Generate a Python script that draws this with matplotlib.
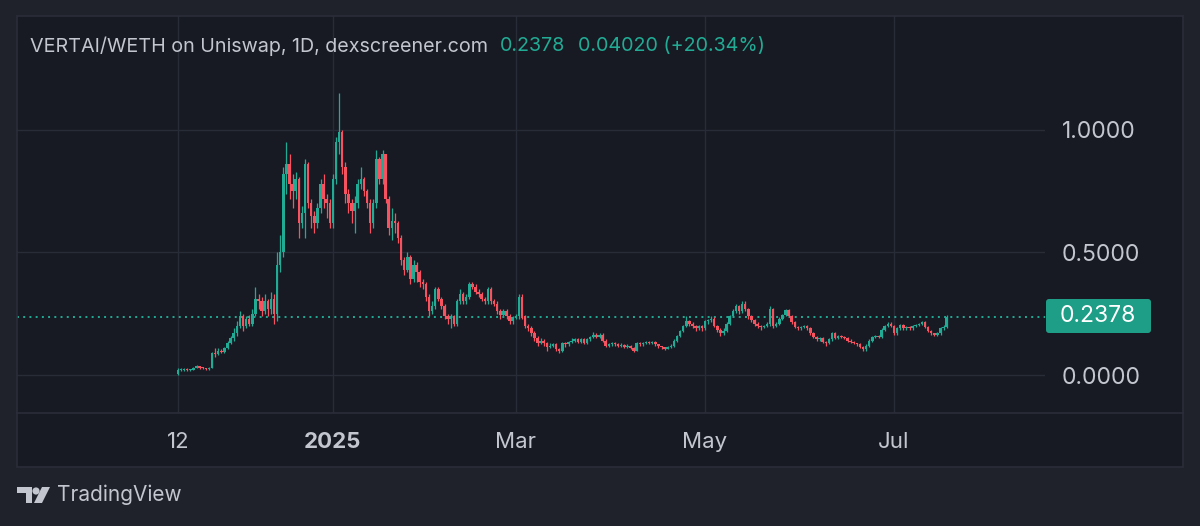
import numpy as np
import pandas as pd
import matplotlib
matplotlib.use("Agg")
import matplotlib.pyplot as plt
import matplotlib.dates as mdates
from matplotlib.patches import Rectangle, FancyBboxPatch, Circle, Polygon
from matplotlib.transforms import IdentityTransform
from matplotlib.lines import Line2D

# daily candles, first day 2024-11-12
start_date = "2024-11-12"
first_open = 0.005
close = [
    0.020, 0.022, 0.025, 0.020, 0.022, 0.030, 0.035, 0.030, 0.028, 0.025,
    0.030, 0.090, 0.085, 0.100, 0.095, 0.110, 0.130, 0.150, 0.170, 0.200,
    0.240, 0.200, 0.230, 0.210, 0.250, 0.310, 0.300, 0.260, 0.300, 0.270,
    0.310, 0.250, 0.450, 0.500, 0.820, 0.860, 0.780, 0.750, 0.800, 0.620,
    0.660, 0.860, 0.700, 0.650, 0.620, 0.680, 0.780, 0.720, 0.700, 0.620,
    0.800, 0.950, 0.990, 0.850, 0.740, 0.700, 0.670, 0.700, 0.780, 0.800,
    0.750, 0.700, 0.620, 0.700, 0.880, 0.800, 0.900, 0.720, 0.600, 0.630,
    0.620, 0.560, 0.470, 0.430, 0.480, 0.390, 0.450, 0.420, 0.380, 0.370,
    0.320, 0.260, 0.280, 0.350, 0.310, 0.280, 0.240, 0.230, 0.240, 0.210,
    0.300, 0.330, 0.300, 0.320, 0.370, 0.360, 0.340, 0.330, 0.310, 0.300,
    0.350, 0.300, 0.290, 0.260, 0.245, 0.260, 0.240, 0.220, 0.235, 0.240,
    0.320, 0.240, 0.200, 0.190, 0.170, 0.150, 0.130, 0.140, 0.130, 0.115,
    0.120, 0.125, 0.105, 0.100, 0.130, 0.125, 0.135, 0.140, 0.145, 0.135,
    0.145, 0.130, 0.145, 0.155, 0.165, 0.155, 0.165, 0.140, 0.120, 0.125,
    0.130, 0.125, 0.120, 0.122, 0.115, 0.120, 0.110, 0.100, 0.130, 0.125,
    0.130, 0.135, 0.130, 0.135, 0.125, 0.118, 0.113, 0.108, 0.115, 0.120,
    0.140, 0.160, 0.180, 0.200, 0.220, 0.210, 0.200, 0.190, 0.200, 0.190,
    0.220, 0.225, 0.230, 0.200, 0.185, 0.170, 0.180, 0.210, 0.240, 0.260,
    0.280, 0.260, 0.290, 0.270, 0.240, 0.225, 0.210, 0.200, 0.195, 0.200,
    0.210, 0.270, 0.200, 0.210, 0.230, 0.245, 0.265, 0.240, 0.215, 0.195,
    0.190, 0.195, 0.200, 0.190, 0.170, 0.155, 0.145, 0.150, 0.135, 0.130,
    0.145, 0.170, 0.150, 0.160, 0.155, 0.150, 0.140, 0.135, 0.130, 0.125,
    0.115, 0.105, 0.120, 0.140, 0.155, 0.160, 0.155, 0.185, 0.200, 0.210,
    0.200, 0.170, 0.190, 0.205, 0.190, 0.195, 0.190, 0.200, 0.205, 0.210,
    0.215, 0.195, 0.180, 0.170, 0.165, 0.170, 0.190, 0.1976, 0.2378,
]
high = [
    0.030, 0.030, 0.030, 0.028, 0.026, 0.034, 0.040, 0.038, 0.033, 0.030,
    0.034, 0.095, 0.110, 0.110, 0.105, 0.115, 0.140, 0.160, 0.190, 0.220,
    0.260, 0.250, 0.240, 0.245, 0.270, 0.360, 0.330, 0.320, 0.330, 0.310,
    0.340, 0.330, 0.500, 0.570, 0.850, 0.950, 0.900, 0.820, 0.830, 0.810,
    0.690, 0.880, 0.870, 0.720, 0.670, 0.700, 0.800, 0.820, 0.740, 0.720,
    0.820, 0.970, 1.150, 1.000, 0.870, 0.760, 0.720, 0.730, 0.800, 0.850,
    0.810, 0.760, 0.720, 0.720, 0.920, 0.890, 0.920, 0.900, 0.730, 0.680,
    0.660, 0.630, 0.570, 0.480, 0.500, 0.490, 0.470, 0.460, 0.430, 0.390,
    0.380, 0.330, 0.300, 0.360, 0.360, 0.320, 0.290, 0.250, 0.250, 0.245,
    0.310, 0.350, 0.340, 0.330, 0.380, 0.380, 0.370, 0.350, 0.340, 0.320,
    0.360, 0.360, 0.310, 0.300, 0.270, 0.270, 0.270, 0.250, 0.240, 0.250,
    0.330, 0.330, 0.245, 0.210, 0.200, 0.180, 0.160, 0.150, 0.145, 0.135,
    0.130, 0.130, 0.130, 0.110, 0.135, 0.135, 0.140, 0.150, 0.150, 0.150,
    0.150, 0.150, 0.150, 0.160, 0.175, 0.170, 0.170, 0.170, 0.145, 0.130,
    0.135, 0.135, 0.130, 0.130, 0.125, 0.125, 0.122, 0.115, 0.135, 0.135,
    0.135, 0.140, 0.140, 0.140, 0.140, 0.128, 0.120, 0.115, 0.120, 0.125,
    0.145, 0.165, 0.185, 0.205, 0.240, 0.225, 0.215, 0.205, 0.205, 0.205,
    0.225, 0.230, 0.240, 0.235, 0.205, 0.190, 0.190, 0.215, 0.245, 0.270,
    0.290, 0.285, 0.300, 0.300, 0.275, 0.245, 0.230, 0.215, 0.205, 0.205,
    0.215, 0.280, 0.275, 0.215, 0.235, 0.250, 0.270, 0.270, 0.245, 0.220,
    0.200, 0.200, 0.205, 0.205, 0.195, 0.175, 0.160, 0.155, 0.155, 0.140,
    0.150, 0.175, 0.175, 0.165, 0.165, 0.160, 0.155, 0.145, 0.138, 0.132,
    0.130, 0.120, 0.125, 0.145, 0.160, 0.165, 0.165, 0.190, 0.205, 0.215,
    0.215, 0.205, 0.195, 0.210, 0.210, 0.200, 0.200, 0.205, 0.210, 0.213,
    0.220, 0.220, 0.200, 0.185, 0.172, 0.175, 0.195, 0.205, 0.245,
]
low = [
    0.000, 0.016, 0.018, 0.016, 0.017, 0.020, 0.027, 0.026, 0.024, 0.020,
    0.022, 0.028, 0.075, 0.080, 0.088, 0.090, 0.105, 0.125, 0.140, 0.160,
    0.190, 0.180, 0.190, 0.200, 0.200, 0.240, 0.270, 0.240, 0.250, 0.240,
    0.250, 0.210, 0.220, 0.420, 0.480, 0.740, 0.720, 0.680, 0.720, 0.560,
    0.600, 0.560, 0.680, 0.600, 0.580, 0.600, 0.660, 0.680, 0.640, 0.600,
    0.600, 0.780, 0.900, 0.820, 0.700, 0.660, 0.620, 0.580, 0.680, 0.760,
    0.730, 0.680, 0.580, 0.600, 0.680, 0.780, 0.780, 0.700, 0.570, 0.550,
    0.580, 0.540, 0.450, 0.410, 0.420, 0.370, 0.380, 0.380, 0.360, 0.350,
    0.300, 0.240, 0.250, 0.270, 0.300, 0.270, 0.230, 0.210, 0.190, 0.200,
    0.200, 0.290, 0.290, 0.290, 0.310, 0.350, 0.330, 0.320, 0.300, 0.290,
    0.290, 0.290, 0.280, 0.250, 0.230, 0.240, 0.230, 0.210, 0.210, 0.230,
    0.230, 0.230, 0.190, 0.180, 0.160, 0.140, 0.120, 0.125, 0.120, 0.100,
    0.110, 0.115, 0.100, 0.090, 0.095, 0.115, 0.120, 0.130, 0.135, 0.130,
    0.130, 0.125, 0.125, 0.140, 0.150, 0.150, 0.150, 0.135, 0.115, 0.115,
    0.120, 0.120, 0.115, 0.115, 0.110, 0.110, 0.105, 0.095, 0.100, 0.120,
    0.120, 0.125, 0.125, 0.125, 0.120, 0.112, 0.108, 0.102, 0.105, 0.112,
    0.115, 0.135, 0.155, 0.175, 0.195, 0.200, 0.190, 0.180, 0.185, 0.180,
    0.185, 0.210, 0.215, 0.195, 0.175, 0.160, 0.165, 0.175, 0.205, 0.235,
    0.255, 0.250, 0.255, 0.260, 0.230, 0.215, 0.200, 0.190, 0.185, 0.190,
    0.195, 0.200, 0.190, 0.195, 0.205, 0.225, 0.240, 0.235, 0.210, 0.190,
    0.185, 0.185, 0.190, 0.185, 0.165, 0.150, 0.140, 0.140, 0.130, 0.120,
    0.125, 0.140, 0.145, 0.145, 0.150, 0.145, 0.135, 0.130, 0.125, 0.120,
    0.110, 0.100, 0.100, 0.115, 0.135, 0.150, 0.150, 0.150, 0.180, 0.195,
    0.195, 0.165, 0.165, 0.185, 0.185, 0.185, 0.185, 0.185, 0.195, 0.200,
    0.205, 0.190, 0.175, 0.165, 0.160, 0.160, 0.165, 0.185, 0.190,
]

price_ticks = [0.0, 0.5, 1.0]
price_labels = ["0.0000", "0.5000", "1.0000"]
date_ticks = ["2024-11-12", "2025-01-01", "2025-03-01", "2025-05-01", "2025-07-01"]
date_labels = ["12", "2025", "Mar", "May", "Jul"]
last_price = 0.2378
title = "VERTAI/WETH on Uniswap, 1D, dexscreener.com"
last_text = "0.2378"
change_text = "0.04020 (+20.34%)"

BG = "#1f222b"
PANEL = "#171a23"
BORDER = "#2b2e39"
GRID = "#282c37"
TEXT = "#c3c6ce"
UP = "#22ab94"
DOWN = "#f7525f"

plt.rcParams['font.family'] = ['Inter', 'DejaVu Sans']

W, H = 1200, 526
fig = plt.figure(figsize=(W / 100, H / 100), dpi=100, facecolor=BG)

def fx(px):
    return px / W

def fy(py):
    return 1 - py / H

# outer panel fill (behind the axes)
panel_xy = (fx(16.7), fy(466.7))
panel_w, panel_h = fx(1183 - 16.7), (466.7 - 16) / H
fig.patches.append(Rectangle(panel_xy, panel_w, panel_h, transform=fig.transFigure,
                             facecolor=PANEL, edgecolor="none", zorder=-5))

ax = fig.add_axes([fx(16.7), fy(413), fx(1045 - 16.7), (413 - 16) / H])
ax.set_facecolor(PANEL)

dates = pd.date_range(start_date, periods=len(close), freq="D")
x = mdates.date2num(dates)
c = np.array(close)
o = np.r_[first_open, c[:-1]]
colors = np.where(c >= o, UP, DOWN)

ax.vlines(x, low, high, colors=colors, linewidth=0.9, zorder=3)
ax.bar(x, np.maximum(np.abs(c - o), 0.004), bottom=np.minimum(o, c), width=0.8,
       color=colors, linewidth=0, zorder=3)

ax.axhline(last_price, color=UP, lw=1.4, ls=(0, (1, 2.2)), zorder=2)

ax.set_xlim(x[0] - 52, x[0] + 279.7)
ax.set_ylim(-0.155, 1.465)

ax.set_yticks(price_ticks)
ax.set_yticklabels(price_labels)
ax.yaxis.tick_right()
ax.tick_params(axis="y", length=0, pad=12, labelsize=16.5, labelcolor=TEXT)

ax.set_xticks(mdates.date2num(pd.to_datetime(date_ticks)))
ax.set_xticklabels(date_labels)
ax.tick_params(axis="x", length=0, pad=14, labelsize=16, labelcolor=TEXT)
for lab in ax.get_xticklabels():
    if lab.get_text() == "2025":
        lab.set_fontweight("bold")

ax.grid(True, color=GRID, lw=1, zorder=0)
for side in ["top", "left", "right", "bottom"]:
    ax.spines[side].set_visible(False)

# panel border on top of everything, plus the time-axis separator
fig.add_artist(Rectangle(panel_xy, panel_w, panel_h, transform=fig.transFigure,
                         facecolor="none", edgecolor=BORDER, lw=1.2))
fig.add_artist(Line2D([fx(16.7), fx(1183)], [fy(413), fy(413)], color=BORDER, lw=1.2))

# last price label
ident = IdentityTransform()
fig.add_artist(FancyBboxPatch((1046, H - 333), 105, 34,
                              boxstyle="round,pad=0,rounding_size=3",
                              transform=ident, facecolor="#1e9e86", edgecolor="none"))
fig.text(fx(1098), fy(316), last_text, color="white", fontsize=16.5,
         ha="center", va="center")

# header
fig.text(fx(30), fy(46), title, color=TEXT, fontsize=14.2, va="center")
fig.text(fx(500), fy(46), last_text, color=UP, fontsize=14.2, va="center")
fig.text(fx(578), fy(46), change_text, color=UP, fontsize=14.2, va="center")

# TradingView logo + name
logo = "#c3c6ce"
fig.add_artist(Polygon([(17, H - 487), (32, H - 487), (32, H - 503), (26, H - 503),
                        (26, H - 493), (17, H - 493)], closed=True,
                       transform=ident, facecolor=logo, edgecolor="none"))
fig.add_artist(Circle((36, H - 491), 3.6, transform=ident, facecolor=logo, edgecolor="none"))
fig.add_artist(Polygon([(42, H - 487), (50, H - 487), (42, H - 503), (34, H - 503)],
                       closed=True, transform=ident, facecolor=logo, edgecolor="none"))
fig.text(fx(57), fy(495), "TradingView", color=TEXT, fontsize=15, va="center")

fig.savefig("out.png", dpi=100, facecolor=BG)
